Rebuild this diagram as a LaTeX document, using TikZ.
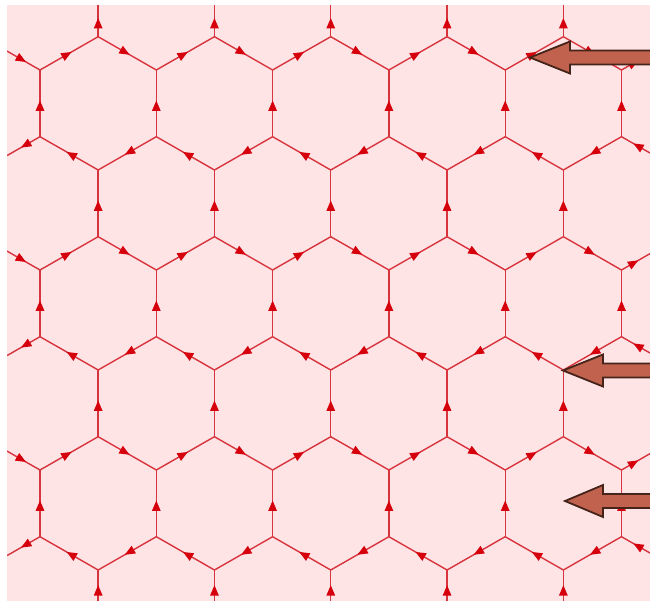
\documentclass[tikz,border=0pt]{standalone}
\usetikzlibrary{decorations.markings,calc}
\definecolor{bgpink}{RGB}{255,228,230}
\definecolor{edgered}{RGB}{216,52,62}
\definecolor{headred}{RGB}{214,0,12}
\definecolor{brownfill}{RGB}{192,98,78}
\definecolor{brownline}{RGB}{70,36,26}
\tikzset{
  latedge/.style={edgered, line width=1.4pt, postaction={decorate},
    decoration={markings, mark=at position 0.5 with {\fill[headred] (2.8pt,0) -- (-7.5pt,4.4pt) -- (-7.5pt,-4.4pt) -- cycle;}}},
  bigarrow/.style={fill=brownfill, draw=brownline, line width=1.8pt, line join=miter}
}
\begin{document}
\begin{tikzpicture}[x=1pt,y=-1pt]
\useasboundingbox (0,0) rectangle (650,601);
\fill[white] (0,0) rectangle (650,601);
\fill[bgpink] (7,5) rectangle (650,601);
\begin{scope}
\clip (7,5) rectangle (650,601);
% vertical edges of the hexagon rows
\foreach \r in {0,...,4} {
  \pgfmathtruncatemacro{\js}{1+mod(\r,2)}
  \pgfmathtruncatemacro{\jn}{\js+2}
  \foreach \j in {\js,\jn,...,11} {
    \draw[latedge] ({-18.15+58.15*\j},{136.7+100*\r}) -- ({-18.15+58.15*\j},{70+100*\r});
  }
}
% top and bottom stubs
\foreach \j in {2,4,...,10} {
  \draw[latedge] ({-18.15+58.15*\j},36.7) -- ({-18.15+58.15*\j},5);
  \draw[latedge] ({-18.15+58.15*\j},606) -- ({-18.15+58.15*\j},570);
}
% slanted edges, band by band
\foreach \b in {0,...,5} {
  \foreach \j in {0,...,11} {
    \pgfmathsetmacro{\yt}{36.7+100*\b}
    \pgfmathsetmacro{\p}{mod(\j+\b,2)}
    \pgfmathsetmacro{\ya}{\yt+33.3*\p}
    \pgfmathsetmacro{\yb}{\yt+33.3*(1-\p)}
    \pgfmathsetmacro{\xa}{-18.15+58.15*\j}
    \pgfmathsetmacro{\xA}{max(\xa,7)}
    \pgfmathsetmacro{\xB}{min(\xa+58.15,650)}
    \pgfmathsetmacro{\yA}{\ya+(\yb-\ya)*(\xA-\xa)/58.15}
    \pgfmathsetmacro{\yB}{\ya+(\yb-\ya)*(\xB-\xa)/58.15}
    \ifodd\b
      \draw[latedge] (\xB,\yB) -- (\xA,\yA);
    \else
      \draw[latedge] (\xA,\yA) -- (\xB,\yB);
    \fi
  }
}
\end{scope}
% the three brown arrows
\begin{scope}
\clip (0,0) rectangle (650,601);
\foreach \tx/\ty/\hx in {530/57.5/570, 563/370.5/603, 565/501/603} {
  \draw[bigarrow] (\tx,\ty) -- (\hx,{\ty-16}) -- (\hx,{\ty-7}) -- (670,{\ty-7})
    -- (670,{\ty+7}) -- (\hx,{\ty+7}) -- (\hx,{\ty+16}) -- cycle;
}
\end{scope}
\end{tikzpicture}
\end{document}
